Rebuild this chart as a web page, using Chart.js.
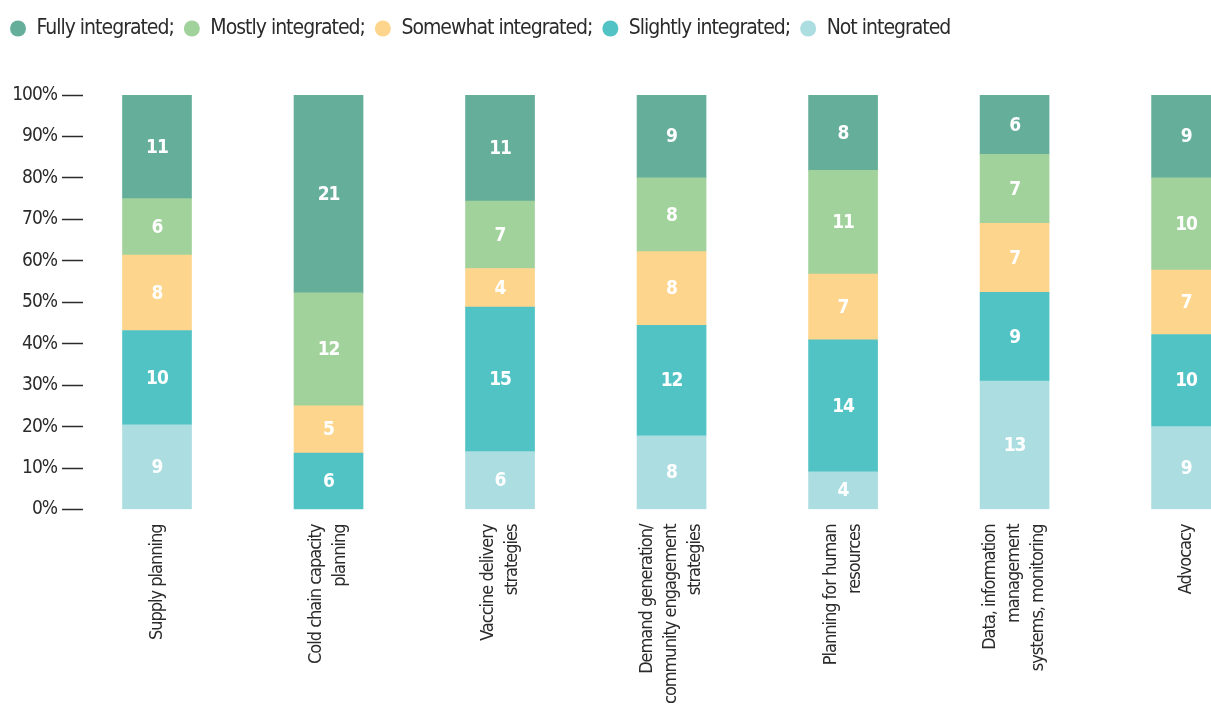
<!DOCTYPE html>
<html>
<head>
<meta charset="utf-8">
<script src="https://cdn.jsdelivr.net/npm/chart.js@4/dist/chart.umd.min.js"></script>
<style>
  html, body { margin:0; padding:0; background:#fff; overflow:hidden; }
  #wrap { width:1290px; height:719px; }
</style>
</head>
<body>
<div id="wrap"><canvas id="c" width="1290" height="719"></canvas></div>
<script>
var categories = [
  ['Supply planning'],
  ['Cold chain capacity', 'planning'],
  ['Vaccine delivery', 'strategies'],
  ['Demand generation/', 'community engagement', 'strategies'],
  ['Planning for human', 'resources'],
  ['Data, information', 'management', 'systems, monitoring'],
  ['Advocacy']
];
var seriesNames = ['Fully integrated;', 'Mostly integrated;', 'Somewhat integrated;', 'Slightly integrated;', 'Not integrated'];
var colors      = ['#65ae9a', '#a2d29c', '#fdd58d', '#52c3c5', '#acdde0'];

// counts per category (respondents)
var fully    = [11, 21, 11,  9,  8,  6,  9];
var mostly   = [ 6, 12,  7,  8, 11,  7, 10];
var somewhat = [ 8,  5,  4,  8,  7,  7,  7];
var slightly = [10,  6, 15, 12, 14,  9, 10];
var notInt   = [ 9,  0,  6,  8,  4, 13,  9];

var yTicks = [0, 10, 20, 30, 40, 50, 60, 70, 80, 90, 100];

var FONT = "'DejaVu Sans Condensed', 'DejaVu Sans', sans-serif";
var series = [fully, mostly, somewhat, slightly, notInt];

var totals = categories.map(function(c, i){
  var t = 0;
  for (var s=0;s<series.length;s++) t += series[s][i];
  return t;
});

// stacking goes bottom-up, so build datasets from "Not integrated" upward
var datasets = [];
for (var s=series.length-1; s>=0; s--) {
  (function(s){
    datasets.push({
      label: seriesNames[s],
      counts: series[s],
      data: series[s].map(function(v, i){ return { x: i, y: v / totals[i] * 100 }; }),
      backgroundColor: colors[s],
      borderWidth: 0,
      barThickness: 69
    });
  })(s);
}

var LINE_H = 24;

// the original uses a condensed face, tighten the spacing a bit
var tightText = {
  id: 'tightText',
  beforeLayout: function(chart){ chart.ctx.letterSpacing = '-1px'; },
  beforeDraw: function(chart){ chart.ctx.letterSpacing = '-1px'; }
};

var countLabels = {
  id: 'countLabels',
  afterDatasetsDraw: function(chart){
    var ctx = chart.ctx;
    ctx.save();
    ctx.fillStyle = '#ffffff';
    ctx.font = 'bold 19px ' + FONT;
    ctx.textAlign = 'center';
    ctx.textBaseline = 'middle';
    chart.data.datasets.forEach(function(ds, di){
      var meta = chart.getDatasetMeta(di);
      meta.data.forEach(function(bar, i){
        var v = ds.counts[i];
        if (!v) return;
        var p = bar.getCenterPoint();
        ctx.fillText(String(v), p.x, p.y + 1);
      });
    });
    ctx.restore();
  }
};

var legendGap = {
  id: 'legendGap',
  beforeInit: function(chart){
    var fit = chart.legend.fit;
    chart.legend.fit = function(){
      fit.call(this);
      this.height += 46;
    };
  }
};

new Chart(document.getElementById('c').getContext('2d'), {
  type: 'bar',
  data: { datasets: datasets },
  plugins: [tightText, countLabels, legendGap],
  options: {
    responsive: false,
    animation: false,
    devicePixelRatio: 1,
    layout: { padding: { top: 8, left: 0, right: 1, bottom: 0 } },
    plugins: {
      tooltip: { enabled: false },
      legend: {
        position: 'top',
        align: 'start',
        reverse: true,
        labels: {
          usePointStyle: true,
          pointStyle: 'circle',
          boxHeight: 11.3,
          pointStyleWidth: 16,
          padding: 10,
          color: '#2b2b2b',
          font: { family: FONT, size: 21 }
        }
      }
    },
    scales: {
      x: {
        type: 'linear',
        offset: false,
        min: -0.4315,
        max: 6.6,
        stacked: true,
        grid: { display: false, drawTicks: false, offset: false },
        border: { display: false },
        afterBuildTicks: function(scale){
          var ppu = scale.width / (scale.max - scale.min);
          scale.ticks = categories.map(function(c, i){
            return { value: i - (c.length - 1) * LINE_H / 2 / ppu };
          });
        },
        ticks: {
          autoSkip: false,
          minRotation: 90,
          maxRotation: 90,
          padding: 15,
          color: '#2b2b2b',
          font: { family: FONT, size: 18, lineHeight: LINE_H + 'px' },
          callback: function(v, i){ return categories[i]; }
        }
      },
      y: {
        stacked: true,
        min: 0,
        max: 100,
        afterFit: function(scale){ scale.width = 83; },
        afterBuildTicks: function(scale){
          scale.ticks = yTicks.map(function(v){ return { value: v }; });
        },
        grid: {
          display: true,
          drawOnChartArea: false,
          drawTicks: true,
          tickLength: 21,
          tickWidth: 1.5,
          tickColor: '#2b2b2b'
        },
        border: { display: false },
        ticks: {
          padding: 5,
          color: '#2b2b2b',
          font: { family: FONT, size: 19 },
          callback: function(v){ return v + '%'; }
        }
      }
    }
  }
});
</script>
</body>
</html>
